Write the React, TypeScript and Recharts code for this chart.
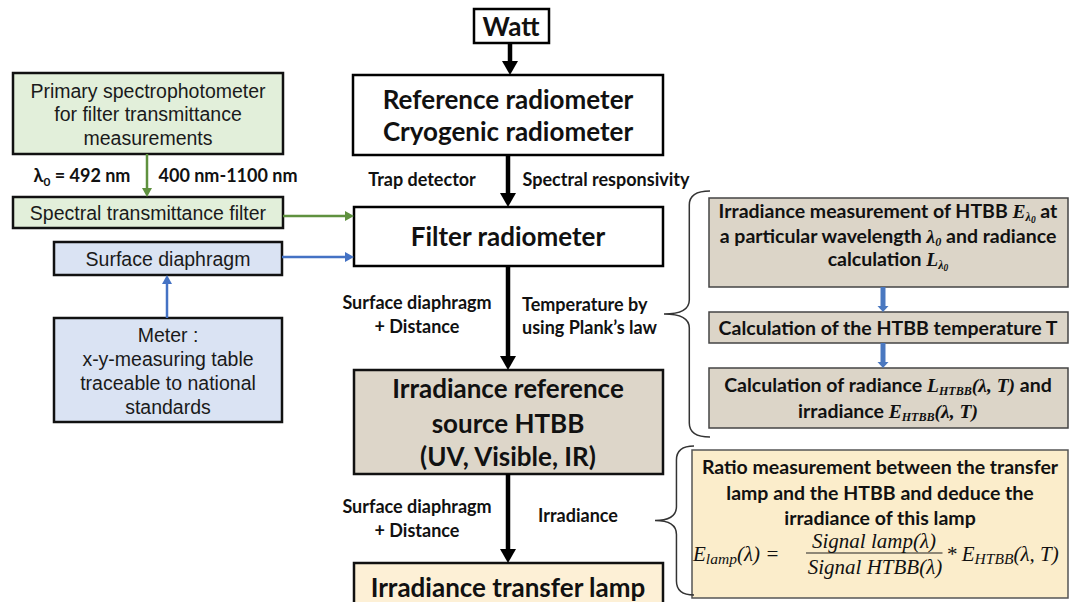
import React from 'react'
import {
	ReferenceArea,
	ReferenceLine,
	Scatter,
	ScatterChart,
	XAxis,
	YAxis
} from 'recharts'

const W = 1074
const H = 602

const SANS = 'Lato, "Open Sans", sans-serif'
const ARIAL = '"Liberation Sans", Arial, sans-serif'
const MATH = '"Liberation Serif", "DejaVu Serif", serif'

type Seg = [string, 'n' | 'i' | 'is' | 'iss' | 's']

// Boxes of the flow diagram, in diagram units (x to the right, y downwards).
const boxes = [
	{ x1: 474, x2: 549, y1: 9, y2: 43, tone: 'plain' },
	{ x1: 353, x2: 663, y1: 75, y2: 155, tone: 'plain' },
	{ x1: 354, x2: 663, y1: 207, y2: 266, tone: 'plain' },
	{ x1: 354, x2: 663, y1: 370, y2: 474, tone: 'sand' },
	{ x1: 354, x2: 663, y1: 563, y2: 608, tone: 'cream' },
	{ x1: 13, x2: 283, y1: 73, y2: 154, tone: 'green' },
	{ x1: 13, x2: 283, y1: 197, y2: 228, tone: 'green' },
	{ x1: 54, x2: 282, y1: 242, y2: 275, tone: 'blue' },
	{ x1: 54, x2: 282, y1: 318, y2: 422, tone: 'blue' },
	{ x1: 709, x2: 1068, y1: 198, y2: 287, tone: 'step' },
	{ x1: 709, x2: 1068, y1: 312, y2: 343, tone: 'step' },
	{ x1: 709, x2: 1068, y1: 368, y2: 428, tone: 'step' },
	{ x1: 692, x2: 1068, y1: 450, y2: 598, tone: 'note' }
]

// Curly braces grouping the right-hand notes.
const braces = [
	{ x1: 664, x2: 710, y1: 191, y2: 437 },
	{ x1: 655, x2: 694, y1: 446, y2: 595 }
]

const arrows = [
	{ from: [510, 43], to: [510, 75], kind: 'main' },
	{ from: [508, 155], to: [508, 207], kind: 'main' },
	{ from: [508, 266], to: [508, 370], kind: 'main' },
	{ from: [508, 474], to: [508, 563], kind: 'main' },
	{ from: [147, 154], to: [147, 197], kind: 'green' },
	{ from: [283, 216], to: [354, 216], kind: 'green' },
	{ from: [282, 257], to: [354, 257], kind: 'blue' },
	{ from: [167, 318], to: [167, 275], kind: 'blue' },
	{ from: [883, 287], to: [883, 312], kind: 'block' },
	{ from: [883, 343], to: [883, 368], kind: 'block' },
	{ from: [806, 553], to: [942, 553], kind: 'rule' }
]

const titleText = [
	{ x: 511, y: 27, segs: [['Watt', 'n']] as Seg[] },
	{ x: 508, y: 100, segs: [['Reference radiometer', 'n']] as Seg[] },
	{ x: 508, y: 132, segs: [['Cryogenic radiometer', 'n']] as Seg[] },
	{ x: 508, y: 237, segs: [['Filter radiometer', 'n']] as Seg[] },
	{ x: 508, y: 389, segs: [['Irradiance reference', 'n']] as Seg[] },
	{ x: 508, y: 424, segs: [['source HTBB', 'n']] as Seg[] },
	{ x: 508, y: 457, segs: [['(UV, Visible, IR)', 'n']] as Seg[] },
	{ x: 508, y: 588, segs: [['Irradiance transfer lamp', 'n']] as Seg[] }
]

const edgeText = [
	{ x: 422, y: 180, segs: [['Trap detector', 'n']] as Seg[] },
	{ x: 606, y: 180, segs: [['Spectral responsivity', 'n']] as Seg[] },
	{ x: 82, y: 176, segs: [['λ', 'n'], ['0', 's'], [' = 492 nm', 'n']] as Seg[] },
	{ x: 228, y: 176, segs: [['400 nm-1100 nm', 'n']] as Seg[] },
	{ x: 417, y: 303, segs: [['Surface diaphragm', 'n']] as Seg[] },
	{ x: 417, y: 327, segs: [['+ Distance', 'n']] as Seg[] },
	{ x: 522, y: 305, anchor: 'start', segs: [['Temperature by', 'n']] as Seg[] },
	{ x: 522, y: 328, anchor: 'start', segs: [['using Plank’s law', 'n']] as Seg[] },
	{ x: 417, y: 507, segs: [['Surface diaphragm', 'n']] as Seg[] },
	{ x: 417, y: 531, segs: [['+ Distance', 'n']] as Seg[] },
	{ x: 578, y: 516, segs: [['Irradiance', 'n']] as Seg[] }
]

const boxText = [
	{ x: 148, y: 91, segs: [['Primary spectrophotometer', 'n']] as Seg[] },
	{ x: 148, y: 114, segs: [['for filter transmittance', 'n']] as Seg[] },
	{ x: 148, y: 138, segs: [['measurements', 'n']] as Seg[] },
	{ x: 148, y: 213, segs: [['Spectral transmittance filter', 'n']] as Seg[] },
	{ x: 168, y: 259, segs: [['Surface diaphragm', 'n']] as Seg[] },
	{ x: 168, y: 335, segs: [['Meter :', 'n']] as Seg[] },
	{ x: 168, y: 359, segs: [['x-y-measuring table', 'n']] as Seg[] },
	{ x: 168, y: 383, segs: [['traceable to national', 'n']] as Seg[] },
	{ x: 168, y: 407, segs: [['standards', 'n']] as Seg[] }
]

const stepText = [
	{ x: 888, y: 211, segs: [['Irradiance measurement of HTBB ', 'n'], ['E', 'i'], ['λ', 'is'], ['0', 'iss'], [' at', 'n']] as Seg[] },
	{ x: 888, y: 236, segs: [['a particular wavelength ', 'n'], ['λ', 'i'], ['0', 'is'], [' and radiance', 'n']] as Seg[] },
	{ x: 888, y: 259, segs: [['calculation ', 'n'], ['L', 'i'], ['λ', 'is'], ['0', 'iss']] as Seg[] },
	{ x: 888, y: 328, segs: [['Calculation of the HTBB temperature T', 'n']] as Seg[] },
	{ x: 888, y: 385, segs: [['Calculation of radiance ', 'n'], ['L', 'i'], ['HTBB', 'is'], ['(λ, T)', 'i'], [' and', 'n']] as Seg[] },
	{ x: 888, y: 411, segs: [['irradiance ', 'n'], ['E', 'i'], ['HTBB', 'is'], ['(λ, T)', 'i']] as Seg[] },
	{ x: 880, y: 467, segs: [['Ratio measurement between the transfer', 'n']] as Seg[] },
	{ x: 880, y: 493, segs: [['lamp and the HTBB and deduce the', 'n']] as Seg[] },
	{ x: 880, y: 518, segs: [['irradiance of this lamp', 'n']] as Seg[] }
]

const formulaText = [
	{ x: 693, y: 553, anchor: 'start', segs: [['E', 'i'], ['lamp', 'is'], ['(λ) =', 'i']] as Seg[] },
	{ x: 874, y: 540, segs: [['Signal lamp(λ)', 'i']] as Seg[] },
	{ x: 875, y: 566, segs: [['Signal HTBB(λ)', 'i']] as Seg[] },
	{ x: 946, y: 553, anchor: 'start', segs: [['* ', 'i'], ['E', 'i'], ['HTBB', 'is'], ['(λ, T)', 'i']] as Seg[] }
]

const tones: Record<string, { fill: string; stroke: string; sw: number }> = {
	plain: { fill: '#ffffff', stroke: '#000', sw: 2.5 },
	green: { fill: '#e2efda', stroke: '#111', sw: 2.5 },
	blue: { fill: '#dae3f3', stroke: '#111', sw: 2.5 },
	sand: { fill: '#ddd6c9', stroke: '#111', sw: 2.5 },
	cream: { fill: '#fdf0d6', stroke: '#111', sw: 2.5 },
	step: { fill: '#dcd5c8', stroke: '#444', sw: 1.5 },
	note: { fill: '#fbedcb', stroke: '#555', sw: 1.5 }
}

const arrowStyles: Record<string, { color: string; w: number; len: number; head: number }> = {
	main: { color: '#000', w: 4.5, len: 14, head: 16 },
	green: { color: '#5f913f', w: 2.5, len: 9, head: 10 },
	blue: { color: '#4472c4', w: 2.5, len: 9, head: 10 },
	block: { color: '#4a78c0', w: 5, len: 6, head: 11 },
	rule: { color: '#222', w: 1.2, len: 0, head: 0 }
}

const textStyles: Record<string, { size: number; weight: string; family: string; color: string; sub: number }> = {
	title: { size: 26, weight: 'bold', family: SANS, color: '#111', sub: 0.66 },
	edge: { size: 18, weight: 'bold', family: SANS, color: '#111', sub: 0.66 },
	box: { size: 19.5, weight: 'normal', family: ARIAL, color: '#1a1a1a', sub: 0.66 },
	step: { size: 19.5, weight: 'bold', family: SANS, color: '#111', sub: 0.62 },
	formula: { size: 21, weight: 'normal', family: MATH, color: '#111', sub: 0.74 }
}

function Arrow(props: any) {
	const x1 = Number(props.x1)
	const y1 = Number(props.y1)
	const x2 = Number(props.x2)
	const y2 = Number(props.y2)
	const s = arrowStyles[props.kind]
	const len = Math.hypot(x2 - x1, y2 - y1) || 1
	const ux = (x2 - x1) / len
	const uy = (y2 - y1) / len
	const bx = x2 - ux * s.len
	const by = y2 - uy * s.len
	const px = -uy * s.head / 2
	const py = ux * s.head / 2
	return (
		<g>
			<line x1={x1} y1={y1} x2={bx + ux * 0.5} y2={by + uy * 0.5} stroke={s.color} strokeWidth={s.w} />
			{s.len > 0 && (
				<polygon
					points={`${x2},${y2} ${bx + px},${by + py} ${bx - px},${by - py}`}
					fill={s.color}
				/>
			)}
		</g>
	)
}

// Curly brace drawn inside the rectangle that ReferenceArea hands us.
function Brace(props: any) {
	const { x, y, width, height } = props
	const xs = x + width * 0.55
	const ym = y + height / 2
	const r = 14
	const d = [
		`M ${x + width} ${y}`,
		`Q ${xs} ${y} ${xs} ${y + r}`,
		`L ${xs} ${ym - r}`,
		`Q ${xs} ${ym} ${x} ${ym}`,
		`Q ${xs} ${ym} ${xs} ${ym + r}`,
		`L ${xs} ${y + height - r}`,
		`Q ${xs} ${y + height} ${x + width} ${y + height}`
	].join(' ')
	return <path d={d} fill='none' stroke='#333' strokeWidth={1.5} />
}

function makeLabel(kind: string) {
	return (props: any) => {
		const { cx, cy, payload } = props
		const st = textStyles[kind]
		const size = st.size
		const off = [0, size * 0.17, size * 0.25]
		const scale = [1, st.sub, st.sub * 0.78]
		let level = 0
		return (
			<text
				x={cx}
				y={cy + size * 0.36}
				textAnchor={payload.anchor === 'start' ? 'start' : 'middle'}
				fontSize={size}
				fontWeight={st.weight}
				fontFamily={st.family}
				fill={st.color}
				style={{ whiteSpace: 'pre' }}
			>
				{payload.segs.map(([t, k]: Seg, i: number) => {
					const lvl = k === 'iss' ? 2 : k === 'is' || k === 's' ? 1 : 0
					const dy = off[lvl] - off[level]
					level = lvl
					const math = k.startsWith('i')
					return (
						<tspan
							key={i}
							dy={dy}
							fontSize={size * scale[lvl]}
							fontFamily={math ? MATH : undefined}
							fontStyle={math ? 'italic' : undefined}
						>
							{t}
						</tspan>
					)
				})}
			</text>
		)
	}
}

export default function App() {
	return (
		<div style={{ position: 'absolute', left: 0, top: 0, background: '#fff' }}>
			<ScatterChart width={W} height={H} margin={{ top: 0, right: 0, bottom: 0, left: 0 }}>
				<XAxis type='number' dataKey='x' domain={[0, W]} allowDataOverflow hide />
				<YAxis type='number' dataKey='y' domain={[0, H]} allowDataOverflow reversed hide />

				{boxes.map((b, i) => {
					const t = tones[b.tone]
					return (
						<ReferenceArea
							key={'b' + i}
							x1={b.x1}
							x2={b.x2}
							y1={b.y1}
							y2={b.y2}
							fill={t.fill}
							fillOpacity={1}
							stroke={t.stroke}
							strokeWidth={t.sw}
							ifOverflow='visible'
						/>
					)
				})}

				{braces.map((b, i) => (
					<ReferenceArea
						key={'c' + i}
						x1={b.x1}
						x2={b.x2}
						y1={b.y1}
						y2={b.y2}
						ifOverflow='visible'
						shape={(p: any) => <Brace {...p} />}
					/>
				))}

				{arrows.map((a, i) => (
					<ReferenceLine
						key={'a' + i}
						segment={[
							{ x: a.from[0], y: a.from[1] },
							{ x: a.to[0], y: a.to[1] }
						]}
						ifOverflow='visible'
						shape={(p: any) => <Arrow {...p} kind={a.kind} />}
					/>
				))}

				<Scatter data={titleText} shape={makeLabel('title')} isAnimationActive={false} />
				<Scatter data={edgeText} shape={makeLabel('edge')} isAnimationActive={false} />
				<Scatter data={boxText} shape={makeLabel('box')} isAnimationActive={false} />
				<Scatter data={stepText} shape={makeLabel('step')} isAnimationActive={false} />
				<Scatter data={formulaText} shape={makeLabel('formula')} isAnimationActive={false} />
			</ScatterChart>
		</div>
	)
}
